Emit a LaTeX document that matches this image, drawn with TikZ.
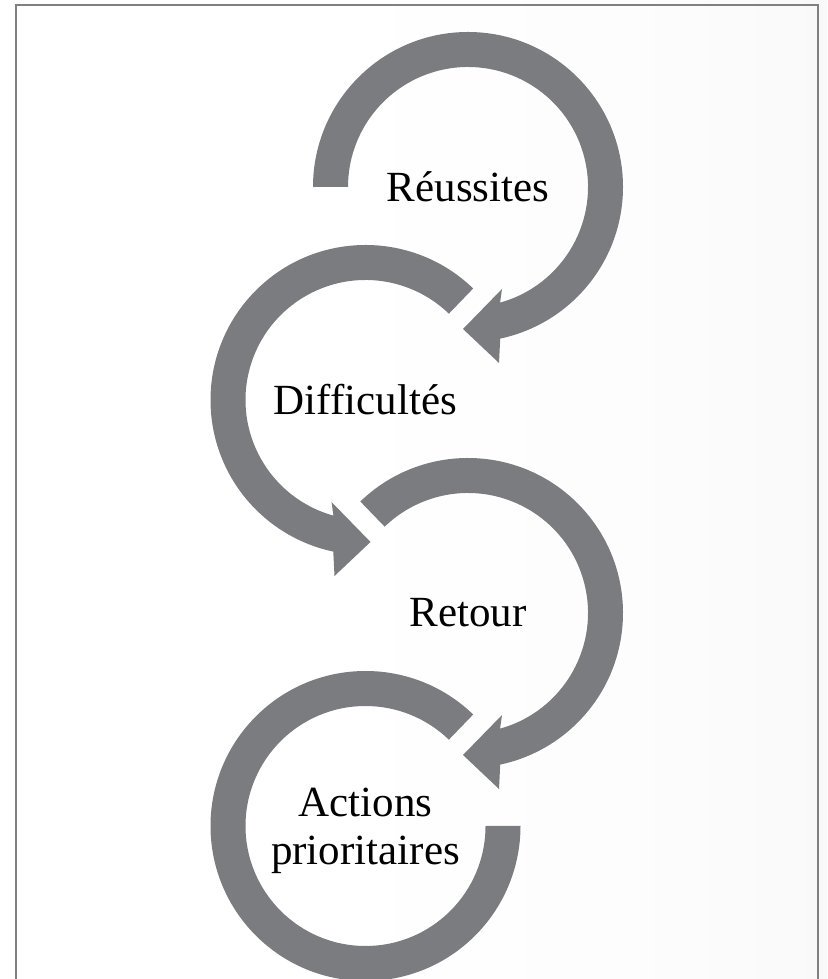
\documentclass[tikz,border=0pt]{standalone}
\usepackage{fontspec}
\setmainfont{Liberation Serif}
\usepackage{tikz}
\usetikzlibrary{calc}
\usepackage{xcolor}
\definecolor{arrowgrey}{RGB}{123,124,128}
\definecolor{framegrey}{RGB}{128,128,131}
\pgfdeclarehorizontalshading{pagefade}{100bp}{color(0bp)=(white); color(45bp)=(white);
	color(65bp)=(black!1); color(80bp)=(black!3); color(100bp)=(black!7)}

\begin{document}
\begin{tikzpicture}[x=1pt, y=1pt,
	ringarrow/.style={fill=arrowgrey, preaction={draw=white, line width=3pt, line join=round}},
	cycletext/.style={font=\fontsize{43}{48}\selectfont, align=center, text=black}]
	\useasboundingbox (0,0) rectangle (827,979);
	\shade[shading=pagefade] (0,0) rectangle (827,979);
	\draw[framegrey, line width=2pt] (16,-5) -- (16,974) -- (818,974) -- (818,-5);
	\coordinate (Reu) at (468,792);
	\coordinate (Dif) at (365.5,579);
	\coordinate (Ret) at (468,366);
	\coordinate (Act) at (365.5,153);
	% clockwise, head at the bottom
	\fill[ringarrow] ($(Reu)+(180:155)$) arc[start angle=180, end angle=-78, radius=155]
		-- ($(Reu)+(31,-176)$) -- ($(Reu)+(-5,-142)$) -- ($(Reu)+(34,-102)$)
		-- ($(Reu)+(-74.5:120)$) arc[start angle=-74.5, end angle=180, radius=120] -- cycle;
	% counter-clockwise, head at the bottom
	\fill[ringarrow] ($(Dif)+(46:155)$) arc[start angle=46, end angle=258, radius=155]
		-- ($(Dif)+(-31,-176)$) -- ($(Dif)+(5,-142)$) -- ($(Dif)+(-34,-102)$)
		-- ($(Dif)+(254.5:120)$) arc[start angle=254.5, end angle=46, radius=120] -- cycle;
	\fill[ringarrow] ($(Ret)+(134:155)$) arc[start angle=134, end angle=-78, radius=155]
		-- ($(Ret)+(31,-176)$) -- ($(Ret)+(-5,-142)$) -- ($(Ret)+(34,-102)$)
		-- ($(Ret)+(-74.5:120)$) arc[start angle=-74.5, end angle=134, radius=120] -- cycle;
	% last ring, no head
	\fill[ringarrow] ($(Act)+(46:155)$) arc[start angle=46, end angle=360, radius=155]
		-- ($(Act)+(0:120)$) arc[start angle=360, end angle=46, radius=120] -- cycle;
	\node[cycletext] (reussites) at (Reu) {Réussites};
	\node[cycletext] (difficultes) at (Dif) {Difficultés};
	\node[cycletext] (retour) at (Ret) {Retour};
	\node[cycletext] (actions) at ($(Act)+(0,-5)$) {Actions\\prioritaires};
\end{tikzpicture}
\end{document}
